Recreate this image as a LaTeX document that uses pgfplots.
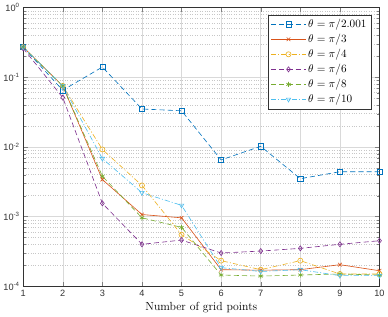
\documentclass[border=0pt]{standalone}
\usepackage{fontspec}
\usepackage{pgfplots}
\pgfplotsset{compat=1.18}
\newfontfamily\hv{Liberation Sans}
\definecolor{c1}{rgb}{0,0.447,0.741}
\definecolor{c2}{rgb}{0.85,0.325,0.098}
\definecolor{c3}{rgb}{0.929,0.694,0.125}
\definecolor{c4}{rgb}{0.494,0.184,0.556}
\definecolor{c5}{rgb}{0.466,0.674,0.188}
\definecolor{c6}{rgb}{0.301,0.745,0.933}
\tikzset{mdash/.style={dash pattern=on 5pt off 3pt}, mdashdot/.style={dash pattern=on 5pt off 2pt on 1pt off 2pt}}
\begin{document}
\begin{tikzpicture}
\begin{axis}[
  scale only axis, width=349pt, height=273pt,
  ymode=log, xmin=1, xmax=10, ymin=1e-4, ymax=1,
  xtick={1,...,10},
  xticklabels={1,2,3,4,5,6,7,8,9,10},
  ytick={1e-4,1e-3,1e-2,1e-1,1},
  yticklabels={10\textsuperscript{-4},10\textsuperscript{-3},10\textsuperscript{-2},10\textsuperscript{-1},10\textsuperscript{0}},
  tick label style={font=\hv\small, text=black!80},
  tick align=inside, tick pos=both,
  axis line style={black!80},
  grid=both,
  major grid style={black!15, line width=0.5pt},
  minor grid style={black!22, dotted},
  minor x tick num=0,
  xlabel={Number of grid points},
  xlabel style={font=\fontsize{11.5}{13}\selectfont, yshift=1pt},
  legend style={at={(0.977,0.975)}, anchor=north east, font=\fontsize{11}{13}\selectfont, draw=black!80, row sep=1pt, inner sep=2.5pt},
  legend image code/.code={\draw[mark repeat=2,mark phase=2] plot coordinates {(0pt,0pt)(17pt,0pt)(34pt,0pt)};},
  legend cell align=left,
  every axis plot/.append style={line width=0.6pt, mark size=2.5pt},
]
\addplot[c1, mdash, mark=square, mark options={solid}] coordinates {(1,0.27)(2,0.065)(3,0.14)(4,0.035)(5,0.033)(6,0.0065)(7,0.0102)(8,0.0035)(9,0.0044)(10,0.0044)};
\addlegendentry{$\theta=\pi/2.001$}
\addplot[c2, solid, mark=x] coordinates {(1,0.27)(2,0.075)(3,0.0034)(4,0.00107)(5,0.00096)(6,0.000173)(7,0.00017)(8,0.000173)(9,0.000204)(10,0.000167)};
\addlegendentry{$\theta=\pi/3$}
\addplot[c3, mdashdot, mark=o, mark options={solid}] coordinates {(1,0.27)(2,0.075)(3,0.0092)(4,0.0028)(5,0.00055)(6,0.000233)(7,0.000173)(8,0.000233)(9,0.00015)(10,0.00015)};
\addlegendentry{$\theta=\pi/4$}
\addplot[c4, mdash, mark=diamond, mark options={solid}] coordinates {(1,0.26)(2,0.051)(3,0.00155)(4,0.0004)(5,0.00046)(6,0.0003)(7,0.00032)(8,0.00035)(9,0.0004)(10,0.00045)};
\addlegendentry{$\theta=\pi/6$}
\addplot[c5, mdash, mark=asterisk, mark options={solid}] coordinates {(1,0.27)(2,0.075)(3,0.0038)(4,0.00096)(5,0.0007)(6,0.000145)(7,0.00014)(8,0.000145)(9,0.00015)(10,0.000145)};
\addlegendentry{$\theta=\pi/8$}
\addplot[c6, mdashdot, mark=triangle, mark options={solid, rotate=180}] coordinates {(1,0.27)(2,0.075)(3,0.0068)(4,0.0022)(5,0.00145)(6,0.000185)(7,0.000163)(8,0.000173)(9,0.000142)(10,0.000142)};
\addlegendentry{$\theta=\pi/10$}
\end{axis}
\end{tikzpicture}
\end{document}
